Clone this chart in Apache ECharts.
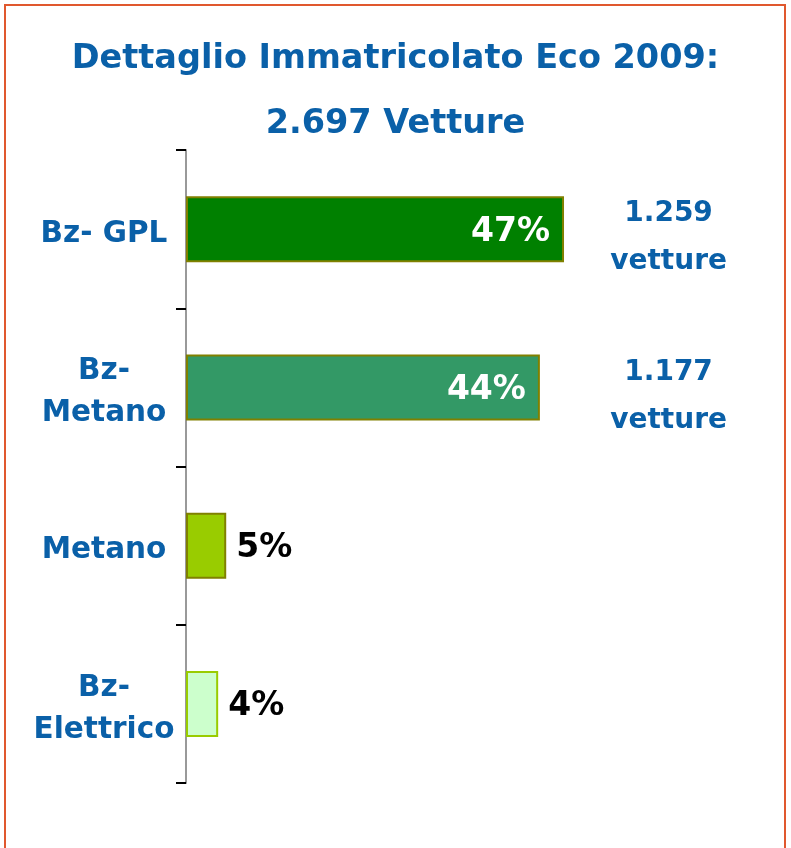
<!DOCTYPE html>
<html>
  <head>
    <meta http-equiv="Content-Type" content="text/html; charset=utf-8" />
    <title>Immatricolato Eco 2009</title>
    <style type="text/css">
      html,body{margin:0;padding:0;background:#fff;}
      #frame{position:absolute;left:4px;top:4px;width:778px;height:850px;border:2px solid #E0582E;border-bottom:none;}
      #chart1{width:791px;height:848px;}
    </style>
    <script type="text/javascript" src="https://cdn.jsdelivr.net/npm/echarts@6/dist/echarts.min.js"></script>
  </head>
  <body>
    <div id="frame"></div>
    <div id="chart1"></div>
  </body>
  <script type="text/javascript">
    // categorie e valori (percentuali)
    var categorie = ['Bz- GPL', 'Bz-\nMetano', 'Metano', 'Bz-\nElettrico'];
    var percentuali = [47, 44, 5, 4];
    var colori = ['#008000', '#339966', '#99CC00', '#CCFFCC'];
    var bordi = ['#808000', '#808000', '#808000', '#99CC00'];
    // etichette vetture a destra
    var vetture = ['1.259\nvetture', '1.177\nvetture'];
    var posVetture = [60, 60];

    var blu = '#0A60A8';
    var font = 'DejaVu Sans';

    var myChart = echarts.init(document.getElementById('chart1'));

    var barData = percentuali.map(function (v, i) {
      var inside = v > 20;
      return {
        value: v,
        itemStyle: { color: colori[i], borderColor: bordi[i], borderWidth: 2 },
        label: {
          position: inside ? 'insideRight' : 'right',
          distance: inside ? 14 : 10,
          color: inside ? '#fff' : '#000'
        }
      };
    });

    var annData = [];
    for (var i = 0; i < posVetture.length; i++) {
      annData.push({ value: [posVetture[i], categorie[i]], testo: vetture[i] });
    }

    myChart.setOption({
      animation: false,
      title: {
        text: 'Dettaglio Immatricolato Eco 2009:\n2.697 Vetture',
        left: 'center',
        top: 22,
        textStyle: { color: blu, fontFamily: font, fontWeight: 'bold', fontSize: 33.5, lineHeight: 65 }
      },
      grid: { left: 186, right: 42, top: 150, bottom: 65 },
      xAxis: { type: 'value', min: 0, max: 70, show: false },
      yAxis: {
        type: 'category',
        inverse: true,
        data: categorie,
        axisLine: { lineStyle: { color: '#999', width: 2 } },
        axisTick: { show: true, length: 10, lineStyle: { color: '#000', width: 2 } },
        axisLabel: {
          align: 'center', margin: 82,
          formatter: function (v) {
            return v.split('\n').map(function (s) { return '{a|' + s + '}'; }).join('\n');
          },
          rich: {
            a: {
              color: blu, fontFamily: font, fontWeight: 'bold', fontSize: 29.5,
              lineHeight: 42, padding: [10, 0, 0, 0]
            }
          }
        }
      },
      series: [{
        type: 'bar',
        data: barData,
        barWidth: 66,
        label: {
          show: true,
          offset: [0, 3],
          formatter: '{c}%',
          fontFamily: font, fontWeight: 'bold', fontSize: 33
        }
      }, {
        type: 'scatter',
        symbolSize: 0,
        clip: false,
        itemStyle: { opacity: 1 },
        data: annData,
        label: {
          show: true,
          position: 'inside',
          offset: [0, 9],
          formatter: function (p) { return p.data.testo; },
          color: blu, opacity: 1, fontFamily: font, fontWeight: 'bold', fontSize: 28, lineHeight: 48
        }
      }]
    });
  </script>
</html>
